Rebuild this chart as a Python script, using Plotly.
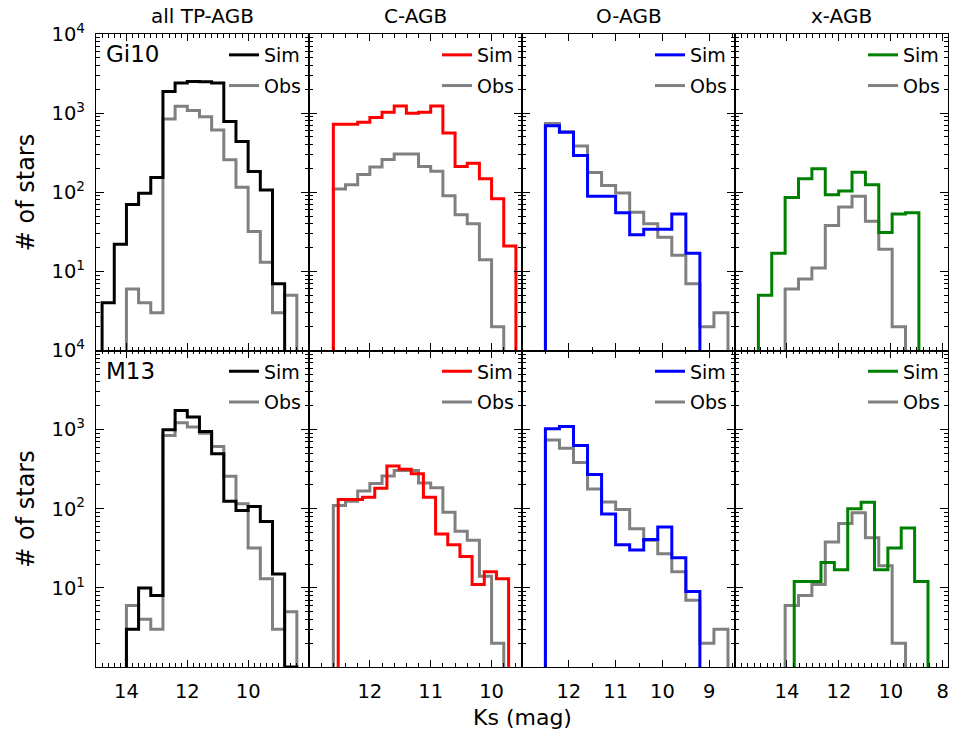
import plotly.graph_objects as go

W, H = 953, 734

# ---------------- data ----------------
categories = ["all TP-AGB", "C-AGB", "O-AGB", "x-AGB"]
row_labels = ["Gi10", "M13"]
sim_colors = ["#000000", "#ff0000", "#0000ff", "#008000"]
obs_color = "#808080"

# bin width (mag) per category, and bright-end bin edge of each histogram
bin_width = [0.4, 0.2, 0.3, 0.515]
gi10_start = [14.8, 12.6, 12.5, 15.1]
m13_start = [14.0, 12.52, 12.5, 13.72]
obs_start = [14.0, 12.6, 12.5, 14.07]

# counts per bin (bright -> faint)
gi10_all = [4, 22, 70, 97, 154, 1875, 2400, 2510, 2500, 2400, 785, 437, 183, 107, 7]
gi10_c = [724, 724, 768, 881, 1025, 1230, 1000, 1025, 1230, 560, 211, 233, 148, 83, 21]
gi10_o = [692, 575, 292, 89, 89, 55, 29, 34, 34, 53, 17]
gi10_x = [5, 17, 86, 148, 198, 93, 104, 179, 124, 31, 53, 55]

m13_all = [3, 10, 8, 1000, 1740, 1440, 950, 495, 124, 95, 107, 69, 15, 1]
m13_c = [131, 131, 140, 182, 346, 315, 276, 140, 48, 35, 25, 11, 16, 13]
m13_o = [1023, 1095, 630, 270, 86, 35, 30, 41, 59, 24, 9]
m13_x = [12, 12, 21, 17, 100, 121, 17, 32, 57, 12]

obs_all = [6, 4, 3, 840, 1220, 1080, 900, 610, 257, 116, 32, 13, 3, 5]
obs_c = [110, 124, 168, 208, 260, 305, 305, 211, 184, 90, 52, 40, 14, 2]
obs_o = [738, 580, 383, 178, 122, 98, 56, 40, 27, 16, 7, 2, 3]
obs_x = [6, 8, 11, 38, 65, 89, 43, 19, 2]

x_ranges = [[15, 8], [13, 9.5], [13, 8.45], [16, 7.8]]
x_ticks = [[14, 12, 10], [12, 11, 10], [12, 11, 10, 9], [14, 12, 10, 8]]
x_minor = [0.2, 0.2, 0.5, 0.25]
y_ticks = [1, 10, 100, 1000, 10000]
y_ticktext = ["", "10<sup>1</sup>", "10<sup>2</sup>", "10<sup>3</sup>", "10<sup>4</sup>"]

sim_rows = [[gi10_all, gi10_c, gi10_o, gi10_x], [m13_all, m13_c, m13_o, m13_x]]
sim_starts = [gi10_start, m13_start]
obs_rows = [obs_all, obs_c, obs_o, obs_x]

# ---------------- layout geometry (pixels) ----------------
col_px = [(96, 309), (309, 522), (522, 735), (735, 948)]
row_px = [(34, 350.5), (350.5, 667)]
FONT = "DejaVu Sans"


def step_xy(start, width, counts, floor=0.1):
    n = len(counts)
    edges = [start - i * width for i in range(n + 1)]
    x = [edges[0]] + edges[:n] + [edges[n]]
    y = [floor] + list(counts) + [floor]
    return x, y


fig = go.Figure()
layout = {}
minor_y = [m * 10 ** e for e in range(0, 4) for m in range(2, 10)]

for r in range(2):
    for c in range(4):
        k = r * 4 + c + 1
        sfx = "" if k == 1 else str(k)
        leg = "legend" + sfx
        ox, oy = step_xy(obs_start[c], bin_width[c], obs_rows[c])
        sx, sy = step_xy(sim_starts[r][c], bin_width[c], sim_rows[r][c])
        fig.add_trace(go.Scatter(
            x=ox, y=oy, mode="lines", line=dict(color=obs_color, width=3, shape="hv"),
            name="Obs", legend=leg, legendrank=2, legendgroup=f"o{k}",
            xaxis="x" + sfx, yaxis="y" + sfx, hoverinfo="skip"))
        fig.add_trace(go.Scatter(
            x=sx, y=sy, mode="lines", line=dict(color=sim_colors[c], width=3, shape="hv"),
            name="Sim", legend=leg, legendrank=1, legendgroup=f"s{k}",
            xaxis="x" + sfx, yaxis="y" + sfx, hoverinfo="skip"))

        l, rr = col_px[c]
        t, b = row_px[r]
        layout["xaxis" + sfx] = dict(
            domain=[l / W, rr / W], range=x_ranges[c], anchor="y" + sfx,
            tickvals=x_ticks[c], showticklabels=(r == 1), automargin=False,
            ticks="inside", ticklen=7, tickwidth=1, tickcolor="black",
            minor=dict(ticks="inside", ticklen=3.5, dtick=x_minor[c], tick0=0,
                       tickcolor="black", tickwidth=1, showgrid=False),
            showline=True, linecolor="black", linewidth=1.2, mirror="allticks",
            showgrid=False, zeroline=False,
            tickfont=dict(family=FONT, size=19.5, color="black"),
            ticklabelstandoff=6)
        layout["yaxis" + sfx] = dict(
            domain=[1 - b / H, 1 - t / H], type="log", range=[0, 4], anchor="x" + sfx,
            tickvals=y_ticks, ticktext=y_ticktext, showticklabels=(c == 0), automargin=False,
            ticks="inside", ticklen=8, tickwidth=1, tickcolor="black",
            minor=dict(ticks="inside", ticklen=4, tickvals=minor_y,
                       tickcolor="black", tickwidth=1, showgrid=False),
            showline=True, linecolor="black", linewidth=1.2, mirror="allticks",
            showgrid=False, zeroline=False,
            tickfont=dict(family=FONT, size=19.5, color="black"),
            ticklabelstandoff=6)
        layout[leg] = dict(
            x=(rr - 3) / W, y=1 - (t + 2) / H, xanchor="right", yanchor="top",
            bgcolor="rgba(0,0,0,0)", borderwidth=0,
            font=dict(family=FONT, size=19, color="black"),
            tracegroupgap=3, traceorder="grouped", itemwidth=30)

annotations = []
for c, name in enumerate(categories):
    l, rr = col_px[c]
    annotations.append(dict(text=name, x=(l + rr) / 2 / W, y=1 - 16 / H, xref="paper", yref="paper",
                            showarrow=False, xanchor="center", yanchor="middle",
                            font=dict(family=FONT, size=20, color="black")))
for r, name in enumerate(row_labels):
    t, b = row_px[r]
    annotations.append(dict(text=name, x=104 / W, y=1 - (t + 20) / H, xref="paper", yref="paper",
                            showarrow=False, xanchor="left", yanchor="middle",
                            font=dict(family=FONT, size=23, color="black")))
    annotations.append(dict(text="# of stars", x=26 / W, y=1 - ((t + b) / 2) / H, xref="paper", yref="paper",
                            showarrow=False, xanchor="center", yanchor="middle", textangle=-90,
                            font=dict(family=FONT, size=24, color="black")))
annotations.append(dict(text="Ks (mag)", x=522 / W, y=1 - 717 / H, xref="paper", yref="paper",
                        showarrow=False, xanchor="center", yanchor="middle",
                        font=dict(family=FONT, size=22, color="black")))

fig.update_layout(
    width=W, height=H, margin=dict(l=0, r=0, t=0, b=0, autoexpand=False),
    paper_bgcolor="white", plot_bgcolor="white",
    annotations=annotations, showlegend=True, **layout)

fig.write_html("out.html")
